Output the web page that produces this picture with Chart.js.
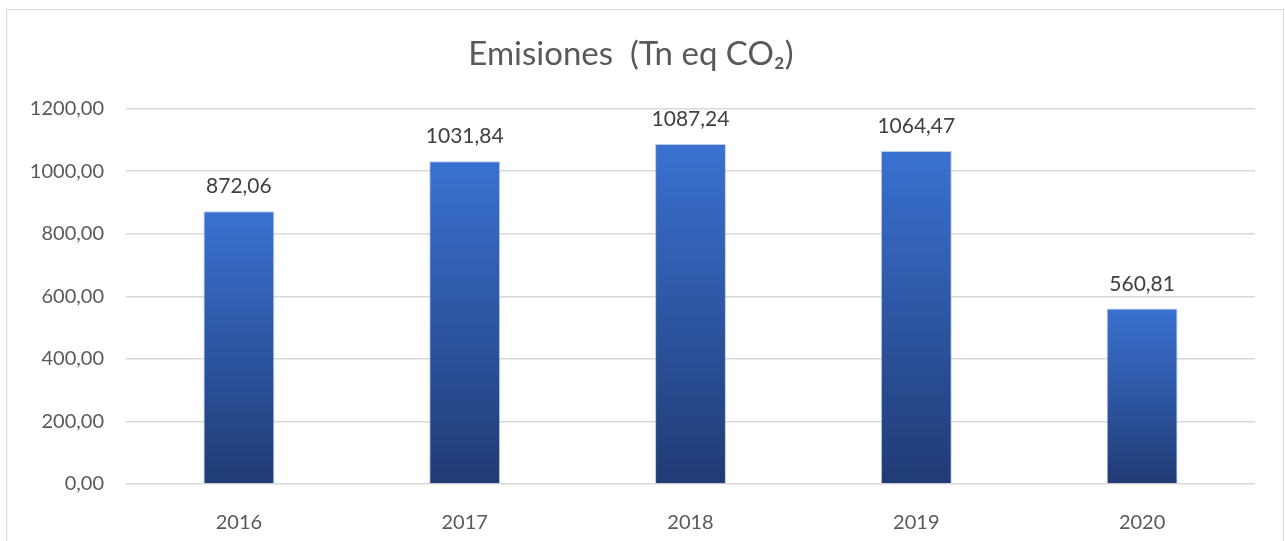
<!DOCTYPE html>
<html>
<head>
<meta charset="utf-8">
<script src="https://cdn.jsdelivr.net/npm/chart.js@4"></script>
<style>
  html, body { margin: 0; padding: 0; background: #fff; overflow: hidden; }
  #wrap {
    position: absolute; left: 6px; top: 9px;
    width: 1276px; height: 540px;
    border: 1.5px solid #d9d9d9; border-bottom: none;
  }
</style>
</head>
<body>
<div id="wrap"><canvas id="emiChart" width="1276" height="532"></canvas></div>
<script>
const years = ['2016', '2017', '2018', '2019', '2020'];
const emisiones = [872.06, 1031.84, 1087.24, 1064.47, 560.81];
const yTicks = [0, 200, 400, 600, 800, 1000, 1200];

function fmt(v) {
    return v.toFixed(2).replace('.', ',');
}

// degradado por barra (claro arriba, oscuro abajo)
function barGradient(context) {
    const chart = context.chart;
    if (!chart.chartArea || !chart.scales.y) return '#2f5aae';
    const y = chart.scales.y;
    const top = y.getPixelForValue(context.raw);
    const bottom = y.getPixelForValue(0);
    const g = chart.ctx.createLinearGradient(0, top, 0, bottom);
    g.addColorStop(0, '#3a71d1');
    g.addColorStop(1, '#203b74');
    return g;
}

// etiquetas de valor encima de cada barra
const valueLabels = {
    id: 'valueLabels',
    afterDatasetsDraw(chart) {
        const ctx = chart.ctx;
        const meta = chart.getDatasetMeta(0);
        ctx.save();
        ctx.font = '21px Lato, "DejaVu Sans", sans-serif';
        ctx.fillStyle = '#404040';
        ctx.textAlign = 'center';
        ctx.textBaseline = 'bottom';
        meta.data.forEach(function (bar, i) {
            ctx.fillText(fmt(emisiones[i]), bar.x, bar.y - 14);
        });
        ctx.restore();
    }
};

new Chart(document.getElementById('emiChart').getContext('2d'), {
    type: 'bar',
    data: {
        labels: years,
        datasets: [{
            data: emisiones,
            backgroundColor: barGradient,
            borderColor: 'rgba(140,170,225,0.6)',
            borderWidth: 1,
            barPercentage: 0.314,
            categoryPercentage: 1
        }]
    },
    options: {
        responsive: false,
        animation: false,
        layout: { padding: { left: 0, right: 28, top: 0, bottom: 0 } },
        plugins: {
            legend: { display: false },
            tooltip: { enabled: false },
            title: {
                display: true,
                text: 'Emisiones  (Tn eq CO₂)',
                color: '#595959',
                font: { family: 'Lato, "DejaVu Sans", sans-serif', size: 33, weight: 'normal' },
                padding: { top: 25, bottom: 34 }
            }
        },
        scales: {
            x: {
                grid: { display: false },
                border: { display: false },
                ticks: {
                    color: '#595959',
                    font: { family: 'Lato, sans-serif', size: 20 },
                    padding: 19
                },
                afterFit(scale) { scale.height = 58; }
            },
            y: {
                min: 0,
                max: 1200,
                afterBuildTicks(scale) {
                    scale.ticks = yTicks.map(v => ({ value: v }));
                },
                grid: { color: '#d9d9d9', lineWidth: 1.5, drawTicks: false },
                border: { display: false },
                ticks: {
                    color: '#595959',
                    font: { family: 'Lato, sans-serif', size: 20 },
                    padding: 22,
                    callback: v => fmt(v)
                },
                afterFit(scale) { scale.width = 119; }
            }
        }
    },
    plugins: [valueLabels]
});
</script>
</body>
</html>
